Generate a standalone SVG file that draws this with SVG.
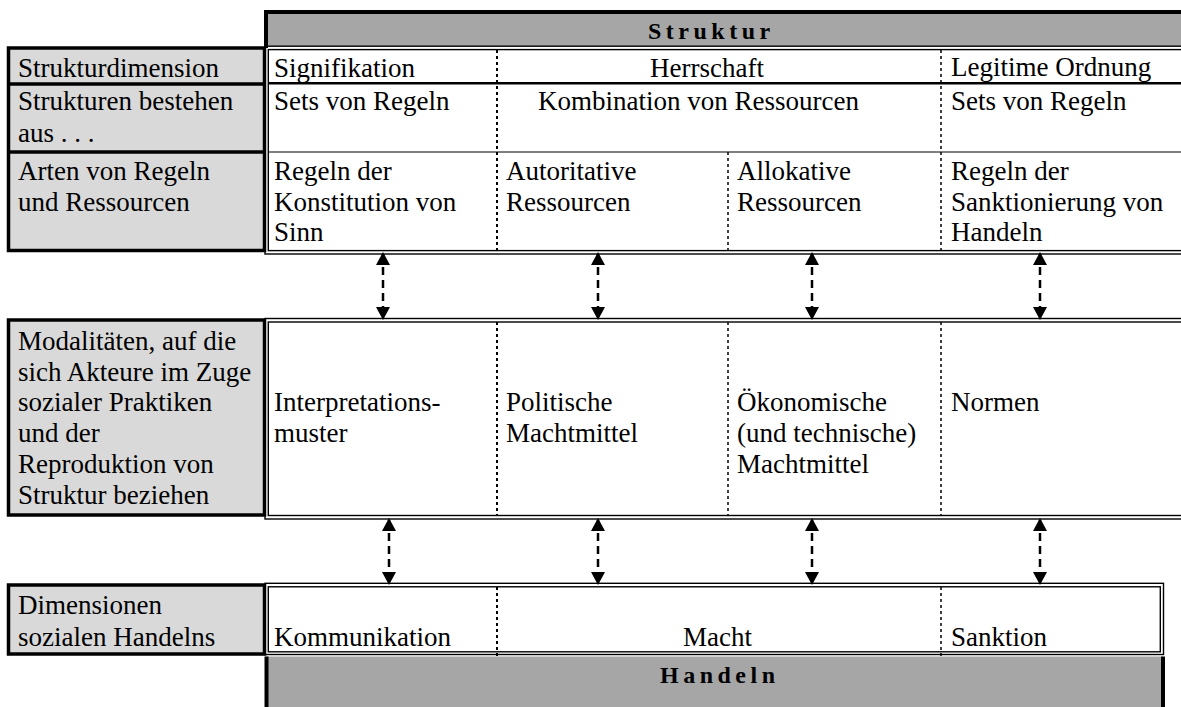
<svg xmlns="http://www.w3.org/2000/svg" width="1181" height="707" viewBox="0 0 1181 707">
  <defs>
    <marker id="ah" viewBox="0 0 13 14" refX="11" refY="7" markerWidth="13" markerHeight="14" markerUnits="userSpaceOnUse" orient="auto-start-reverse">
      <path d="M0,0 L13,7 L0,14 Z" fill="#000"/>
    </marker>
  </defs>
  <style>
    text { font-family: "Liberation Serif", "Times New Roman", serif; font-size: 27px; fill: #000; }
    .hdr { font-weight: bold; font-size: 24px; letter-spacing: 4.5px; }
    .band { fill: #a6a6a6; }
    .labelbox { fill: #d9d9d9; stroke: #000; stroke-width: 3.5; }
    .sep { stroke: #000; stroke-width: 3.5; }
    .dbl { fill: none; stroke: #000; stroke-width: 1.4; }
    .thick { stroke: #000; stroke-width: 4; }
    .div { stroke: #000; stroke-width: 2; stroke-dasharray: 3 3; fill: none; }
    .div-thin { stroke: #000; stroke-width: 1.5; stroke-dasharray: 3 3; fill: none; }
    .conn { stroke: #000; stroke-width: 2.5; stroke-dasharray: 8 5; fill: none; marker-start: url(#ah); marker-end: url(#ah); }
  </style>

  <rect width="1181" height="707" fill="#fff"/>

  <!-- Struktur band -->
  <g id="struktur-header">
    <rect class="band" x="266" y="12" width="930" height="34"/>
    <line class="thick" x1="264" y1="12" x2="1196" y2="12"/>
    <line class="thick" x1="266" y1="10" x2="266" y2="48"/>
    <text class="hdr" x="648" y="39.3">Struktur</text>
  </g>

  <!-- Row labels of the structure block -->
  <g id="struktur-labels">
    <rect class="labelbox" x="8.5" y="48" width="256" height="202.5"/>
    <line class="sep" x1="8.5" y1="84" x2="264.5" y2="84"/>
    <line class="sep" x1="8.5" y1="152" x2="264.5" y2="152"/>
    <text x="18" y="77">Strukturdimension</text>
    <text><tspan x="18" y="110">Strukturen bestehen</tspan><tspan x="18" y="141.5">aus . . .</tspan></text>
    <text><tspan x="18" y="180">Arten von Regeln</tspan><tspan x="18" y="211">und Ressourcen</tspan></text>
  </g>

  <!-- Structure table -->
  <g id="struktur-table">
    <rect class="dbl" x="265" y="46.2" width="940" height="207.8"/>
    <rect class="dbl" x="268.3" y="49.6" width="930" height="201"/>
    <line stroke="#000" stroke-width="2.5" x1="268.3" y1="83.3" x2="1200" y2="83.3"/>
    <line stroke="#000" stroke-width="1.2" x1="268.3" y1="152" x2="1200" y2="152"/>
    <line class="div" x1="497" y1="50" x2="497" y2="250"/>
    <line class="div-thin" x1="728" y1="152" x2="728" y2="250"/>
    <line class="div-thin" x1="941" y1="50" x2="941" y2="250"/>

    <text x="274" y="77">Signifikation</text>
    <text x="650" y="77">Herrschaft</text>
    <text x="951" y="76">Legitime Ordnung</text>

    <text x="274" y="110">Sets von Regeln</text>
    <text x="538" y="110">Kombination von Ressourcen</text>
    <text x="951" y="110">Sets von Regeln</text>

    <text><tspan x="274" y="180">Regeln der</tspan><tspan x="274" y="211">Konstitution von</tspan><tspan x="274" y="241">Sinn</tspan></text>
    <text><tspan x="506" y="180">Autoritative</tspan><tspan x="506" y="211">Ressourcen</tspan></text>
    <text><tspan x="737" y="180">Allokative</tspan><tspan x="737" y="211">Ressourcen</tspan></text>
    <text><tspan x="951" y="180">Regeln der</tspan><tspan x="951" y="211">Sanktionierung von</tspan><tspan x="951" y="241">Handeln</tspan></text>
  </g>

  <!-- Modalities block -->
  <g id="modalitaeten">
    <rect class="labelbox" x="8.5" y="320" width="256" height="195"/>
    <text>
      <tspan x="18" y="350">Modalitäten, auf die</tspan>
      <tspan x="18" y="380.5">sich Akteure im Zuge</tspan>
      <tspan x="18" y="411">sozialer Praktiken</tspan>
      <tspan x="18" y="442">und der</tspan>
      <tspan x="18" y="472.5">Reproduktion von</tspan>
      <tspan x="18" y="503.5">Struktur beziehen</tspan>
    </text>
    <rect class="dbl" x="265" y="318.5" width="940" height="200.5"/>
    <rect class="dbl" x="268.3" y="322" width="930" height="193.5"/>
    <line class="div" x1="497" y1="322" x2="497" y2="516"/>
    <line class="div-thin" x1="728" y1="322" x2="728" y2="516"/>
    <line class="div-thin" x1="941" y1="322" x2="941" y2="516"/>
    <text><tspan x="274" y="411">Interpretations-</tspan><tspan x="274" y="442">muster</tspan></text>
    <text><tspan x="506" y="411">Politische</tspan><tspan x="506" y="442">Machtmittel</tspan></text>
    <text><tspan x="737" y="411">Ökonomische</tspan><tspan x="737" y="442">(und technische)</tspan><tspan x="737" y="473">Machtmittel</tspan></text>
    <text x="951" y="411">Normen</text>
  </g>

  <!-- Dimensions of social action -->
  <g id="handlungsdimensionen">
    <rect class="labelbox" x="8.5" y="585" width="256" height="69"/>
    <text><tspan x="18" y="614">Dimensionen</tspan><tspan x="18" y="645.5">sozialen Handelns</tspan></text>
    <rect class="dbl" x="265" y="583.3" width="898.5" height="71.2"/>
    <rect class="dbl" x="268.3" y="586.8" width="892" height="65"/>
    <line class="div" x1="497" y1="587" x2="497" y2="657"/>
    <line class="div-thin" x1="941" y1="587" x2="941" y2="657"/>
    <text x="274" y="645.5">Kommunikation</text>
    <text x="683" y="645.5">Macht</text>
    <text x="951" y="645.5">Sanktion</text>
  </g>

  <!-- Handeln band -->
  <g id="handeln-footer">
    <rect class="band" x="266" y="656.5" width="897" height="60"/>
    <line class="thick" x1="266.5" y1="656.5" x2="266.5" y2="712"/>
    <line class="thick" x1="1163" y1="656.5" x2="1163" y2="712"/>
    <text class="hdr" x="660" y="683">Handeln</text>
  </g>

  <!-- Two-way links between the levels -->
  <g id="connectors">
    <line class="conn" x1="383" y1="254" x2="383" y2="318"/>
    <line class="conn" x1="598" y1="254" x2="598" y2="318"/>
    <line class="conn" x1="812" y1="254" x2="812" y2="318"/>
    <line class="conn" x1="1040" y1="254" x2="1040" y2="318"/>
    <line class="conn" x1="389" y1="520" x2="389" y2="583"/>
    <line class="conn" x1="598" y1="520" x2="598" y2="583"/>
    <line class="conn" x1="812" y1="520" x2="812" y2="583"/>
    <line class="conn" x1="1040" y1="520" x2="1040" y2="583"/>
  </g>
</svg>
